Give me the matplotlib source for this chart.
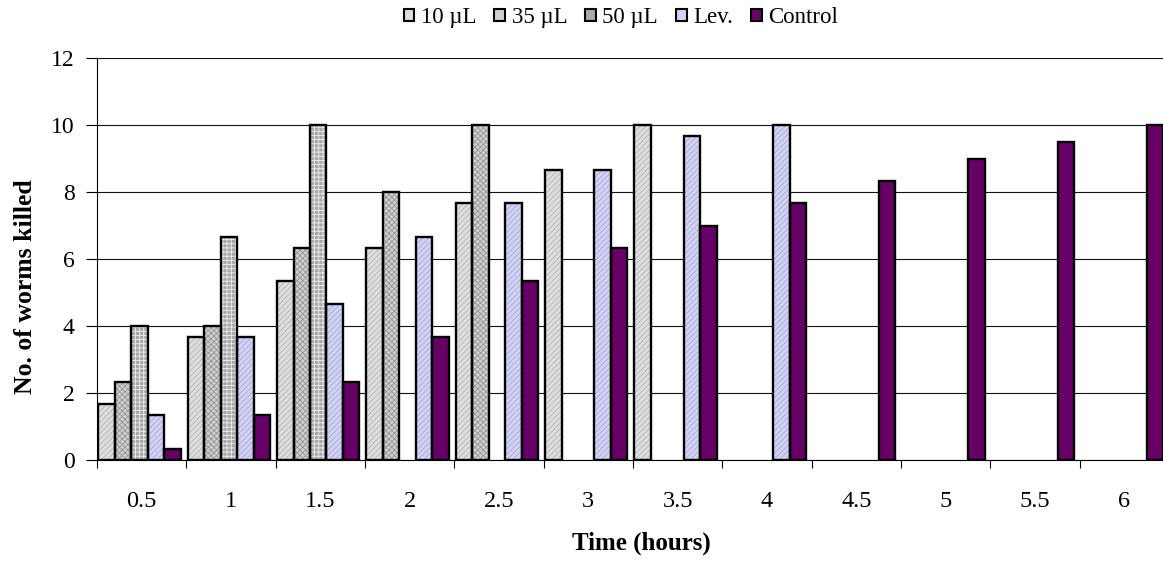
import numpy as np
import matplotlib
matplotlib.use("Agg")
import matplotlib.pyplot as plt
from matplotlib.patches import Patch

plt.rcParams['font.family'] = ['Liberation Serif', 'DejaVu Serif']

times = ['0.5', '1', '1.5', '2', '2.5', '3', '3.5', '4', '4.5', '5', '5.5', '6']
nan = np.nan
s10 = [1.67, 3.67, 5.33, 6.33, 7.67, 8.67, 10, nan, nan, nan, nan, nan]
s35 = [2.33, 4.0, 6.33, 8.0, 10, nan, nan, nan, nan, nan, nan, nan]
s50 = [4.0, 6.67, 10, nan, nan, nan, nan, nan, nan, nan, nan, nan]
lev = [1.33, 3.67, 4.67, 6.67, 7.67, 8.67, 9.67, 10, nan, nan, nan, nan]
control = [0.33, 1.33, 2.33, 3.67, 5.33, 6.33, 7.0, 7.67, 8.33, 9.0, 9.5, 10]

series = [
    ('10 µL', s10, '#dedede', '//////', '#b4b4b4'),
    ('35 µL', s35, '#d0d0d0', 'xxxxxx', '#959595'),
    ('50 µL', s50, '#a9a9a9', '++++', '#eeeeee'),
    ('Lev.', lev, '#d2d2f4', '//////', '#a8a8d8'),
    ('Control', control, '#660066', None, '#660066'),
]

W, H = 1163, 561
fig = plt.figure(figsize=(W/100, H/100), dpi=100)
ax = fig.add_axes([97/W, 1-460/H, (1169-97)/W, (460-58)/H])

x = np.arange(len(times))
w = 0.184
for i, (name, vals, fc, hatch, hc) in enumerate(series):
    pos = x + (i - 2) * w - 0.024
    v = np.array(vals, dtype=float)
    plt.rcParams['hatch.color'] = hc
    plt.rcParams['hatch.linewidth'] = 0.6
    ax.bar(pos, v, width=w, color=fc, hatch=hatch, edgecolor=hc, linewidth=0, zorder=3)
    ax.bar(pos, v, width=w, facecolor='none', edgecolor='black', linewidth=1.7, zorder=4)

ax.set_ylim(0, 12)
ax.set_xlim(-0.5, 11.5)
ax.set_yticks(np.arange(0, 13, 2))
ax.yaxis.grid(True, color='#111111', linewidth=0.8, zorder=0)
ax.set_axisbelow(True)
ax.set_xticks(x)
ax.set_xticklabels(times)
ax.set_xticks(np.arange(-0.5, 12, 1), minor=True)
ax.tick_params(axis='x', which='major', length=0, pad=22, labelsize=17.5)
ax.tick_params(axis='x', which='minor', length=6, direction='out', width=0.8)
ax.tick_params(axis='y', length=8, direction='out', width=0.8, labelsize=17, pad=8)
for s in ['top', 'right']:
    ax.spines[s].set_visible(False)
ax.spines['left'].set_linewidth(0.8)
ax.spines['bottom'].set_linewidth(0.8)

fig.text(641/W, 1-549.5/H, 'Time (hours)', fontsize=18, fontweight='bold', ha='center', va='baseline')
fig.text(25.6/W, 1-286.5/H, 'No. of worms killed', fontsize=18.5, fontweight='bold', ha='center',
         va='center', rotation=90)

handles = []
for name, vals, fc, hatch, hc in series:
    handles.append(Patch(facecolor=fc, edgecolor='black', linewidth=1.5, label=name))
fig.legend(handles=handles, loc='center', bbox_to_anchor=(621/W, 1-17.7/H), ncol=5, frameon=False,
           fontsize=16.5, handlelength=0.46, handleheight=0.46, handletextpad=0.29, columnspacing=0.79,
           borderpad=0.1)

fig.savefig('out.png', dpi=100)
